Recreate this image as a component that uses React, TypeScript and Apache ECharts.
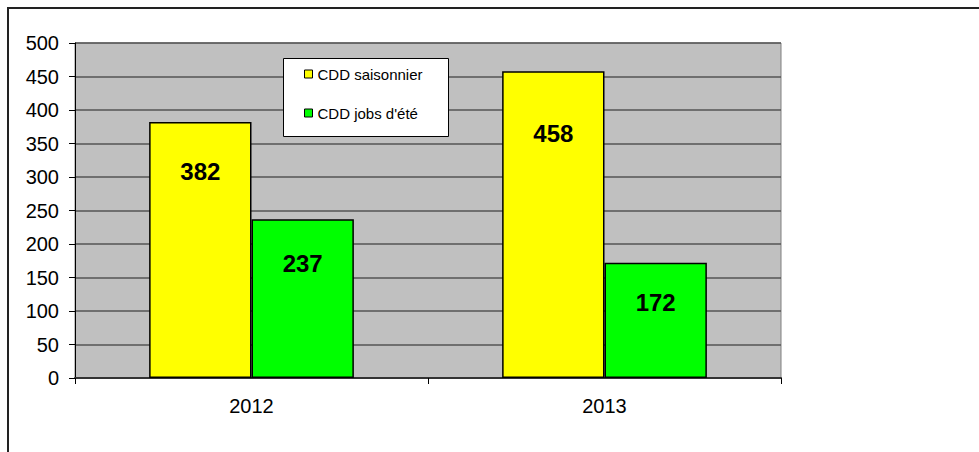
import React, { useEffect, useRef } from "react";
import * as echarts from "echarts";

const categories = ["2012", "2013"];
const seriesNames = ["CDD saisonnier", "CDD jobs d'été"];
const saisonnierValues = [382, 458];
const jobsEteValues = [237, 172];
const yTicks = { min: 0, max: 500, interval: 50 };

// label placement (px from bar top), style only
const saisonnierLabelDist = [37, 50];
const jobsLabelDist = [32, 28];

const FONT = "Liberation Sans, Arial, sans-serif";

export default function App() {
  const ref = useRef<HTMLDivElement>(null);
  useEffect(() => {
    if (!ref.current) return;
    const chart = echarts.init(ref.current, null, { renderer: "svg" });
    const labelBase = {
      show: true,
      position: "insideTop",
      fontSize: 24,
      fontWeight: "bold",
      fontFamily: FONT,
      color: "#000",
    };
    const mk = (vals: number[], dists: number[]) =>
      vals.map((v, i) => ({ value: v, label: { ...labelBase, distance: dists[i] } }));
    chart.setOption({
      animation: false,
      backgroundColor: "#fff",
      textStyle: { fontFamily: FONT },
      grid: {
        left: 75,
        top: 43,
        width: 706,
        height: 335,
        show: true,
        backgroundColor: "#C0C0C0",
        borderColor: "#808080",
        borderWidth: 1,
      },
      legend: {
        orient: "vertical",
        left: 304,
        top: 66,
        padding: 0,
        itemWidth: 8,
        itemHeight: 8,
        itemGap: 23,
        icon: "rect",
        itemStyle: { borderColor: "#000", borderWidth: 1 },
        textStyle: { fontSize: 15, lineHeight: 16, color: "#000", fontFamily: FONT },
        data: seriesNames,
        z: 5,
      },
      graphic: [
        {
          type: "rect",
          z: 3,
          shape: { x: 283.5, y: 58.5, width: 165, height: 78 },
          style: { fill: "#fff", stroke: "#000", lineWidth: 1 },
        },
        {
          type: "rect",
          z: 3,
          shape: { x: 8, y: 8, width: 1000, height: 500 },
          style: { fill: "none", stroke: "#222", lineWidth: 2 },
        },
      ],
      xAxis: {
        type: "category",
        data: categories,
        axisLine: { show: true, lineStyle: { color: "#333", width: 2 } },
        axisTick: { show: true, length: 6, lineStyle: { color: "#000", width: 1 } },
        axisLabel: { fontSize: 20, color: "#000", margin: 18, fontFamily: FONT },
        splitLine: { show: false },
      },
      yAxis: {
        type: "value",
        min: yTicks.min,
        max: yTicks.max,
        interval: yTicks.interval,
        axisLine: { show: true, lineStyle: { color: "#000", width: 1 } },
        axisTick: { show: true, length: 6, lineStyle: { color: "#000", width: 1 } },
        axisLabel: { fontSize: 20, color: "#000", margin: 16, fontFamily: FONT },
        splitLine: { show: true, lineStyle: { color: "#555", width: 1.5 } },
      },
      series: [
        {
          name: seriesNames[0],
          type: "bar",
          data: mk(saisonnierValues, saisonnierLabelDist),
          barGap: "0%",
          barCategoryGap: "42%",
          itemStyle: { color: "#FFFF00", borderColor: "#000", borderWidth: 1.5 },
        },
        {
          name: seriesNames[1],
          type: "bar",
          data: mk(jobsEteValues, jobsLabelDist),
          barGap: "0%",
          barCategoryGap: "42%",
          itemStyle: { color: "#00FF00", borderColor: "#000", borderWidth: 1.5 },
        },
      ],
    });
    return () => chart.dispose();
  }, []);
  return (
    <div
      ref={ref}
      style={{ position: "absolute", left: 0, top: 0, width: 979, height: 452 }}
    />
  );
}
